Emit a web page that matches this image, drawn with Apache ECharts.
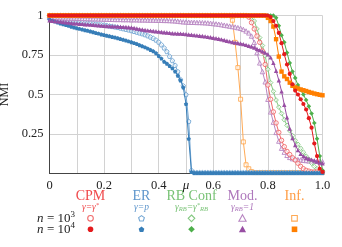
<!DOCTYPE html>
<html><head><meta charset="utf-8">
<script src="https://cdn.jsdelivr.net/npm/echarts@6/dist/echarts.min.js"></script>
<style>html,body{margin:0;padding:0;background:#fff}#c{width:342px;height:247px}</style>
</head><body><div id="c"></div>
<script>
// x grid (mixing parameter mu)
const mu = [0,0.01,0.02,0.03,0.04,0.05,0.06,0.07,0.08,0.09,
0.10,0.11,0.12,0.13,0.14,0.15,0.16,0.17,0.18,0.19,
0.20,0.21,0.22,0.23,0.24,0.25,0.26,0.27,0.28,0.29,
0.30,0.31,0.32,0.33,0.34,0.35,0.36,0.37,0.38,0.39,
0.40,0.41,0.42,0.43,0.44,0.45,0.46,0.47,0.48,0.49,
0.50,0.51,0.52,0.53,0.54,0.55,0.56,0.57,0.58,0.59,
0.60,0.61,0.62,0.63,0.64,0.65,0.66,0.67,0.68,0.69,
0.70,0.71,0.72,0.73,0.74,0.75,0.76,0.77,0.78,0.79,
0.80,0.81,0.82,0.83,0.84,0.85,0.86,0.87,0.88,0.89,
0.90,0.91,0.92,0.93,0.94,0.95,0.96,0.97,0.98,0.99,1.00];

const cpm_1e3 = [1,1,1,1,1,1,1,1,1,1, 1,1,1,1,1,1,1,1,1,1, 1,1,1,1,1,1,1,1,1,1, 1,1,1,1,1,1,1,1,1,1,
1,1,1,1,1,1,1,1,1,1, 1,1,1,1,1,1,1,1,1,1, 1,1,1,1,1,1,1,1,1,1, 1,1,1,
0.99,0.955,0.915,0.87,0.83,0.775,0.69,0.56,0.47,0.39,0.32,0.26,0.21,0.17,0.14,0.12,0.10,0.085,0.065,0.045,0.03,0.02,0.015,0.01,0.01,0.01,0.01,0.01];
const cpm_1e4 = [1,1,1,1,1,1,1,1,1,1, 1,1,1,1,1,1,1,1,1,1, 1,1,1,1,1,1,1,1,1,1, 1,1,1,1,1,1,1,1,1,1,
1,1,1,1,1,1,1,1,1,1, 1,1,1,1,1,1,1,1,1,1, 1,1,1,1,1,1,1,1,1,1, 1,1,1,1,1,1,1,1,1,1, 1,
0.99,0.965,0.935,0.89,0.825,0.755,0.69,0.63,0.565,0.525,0.50,0.47,0.44,0.405,0.35,0.29,0.19,0.11,0.03,0.01];
const er_1e3 = [0.985,0.982,0.979,0.976,0.973,0.970,0.968,0.966,0.964,0.962,
0.960,0.958,0.956,0.954,0.952,0.950,0.948,0.946,0.944,0.942,
0.940,0.937,0.934,0.931,0.928,0.925,0.921,0.917,0.913,0.909,
0.905,0.900,0.895,0.890,0.885,0.879,0.872,0.864,0.856,0.845,
0.832,0.815,0.795,0.772,0.742,0.715,0.685,0.645,0.595,0.555,
0.50,0.33,0.02,
0.006,0.006,0.006,0.006,0.006,0.006,0.006,0.006,0.006,0.006,0.006,0.006,0.006,0.006,0.006,0.006,
0.006,0.006,0.006,0.006,0.006,0.006,0.006,0.006,0.006,0.006,0.006,0.006,0.006,0.006,0.006,0.006,
0.006,0.006,0.006,0.006,0.006,0.006,0.006,0.006,0.006,0.006,0.006,0.006,0.006,0.006,0.006,0.006];
const er_1e4 = [0.975,0.968,0.962,0.956,0.950,0.945,0.940,0.935,0.930,0.925,
0.920,0.916,0.912,0.908,0.904,0.900,0.895,0.890,0.886,0.881,
0.877,0.873,0.869,0.865,0.861,0.857,0.852,0.847,0.842,0.837,
0.832,0.826,0.820,0.813,0.806,0.799,0.791,0.783,0.774,0.762,
0.745,0.728,0.708,0.696,0.681,0.666,0.646,0.620,0.590,0.545,
0.44,0.22,0.01,
0.004,0.004,0.004,0.004,0.004,0.004,0.004,0.004,0.004,0.004,0.004,0.004,0.004,0.004,0.004,0.004,
0.004,0.004,0.004,0.004,0.004,0.004,0.004,0.004,0.004,0.004,0.004,0.004,0.004,0.004,0.004,0.004,
0.004,0.004,0.004,0.004,0.004,0.004,0.004,0.004,0.004,0.004,0.004,0.004,0.004,0.004,0.004,0.004];
const rb_1e3 = [1,1,1,1,1,1,1,1,1,1, 1,1,1,1,1,1,1,1,1,1, 1,1,1,1,1,1,1,1,1,1, 1,1,1,1,1,1,1,1,1,1,
1,1,1,1,1,1,1,1,1,1, 1,1,1,1,1,1,1,1,1,1, 1,1,1,1,1,1,1,1,1,1, 1,1,1,1,
0.99,0.965,0.915,0.86,0.81,0.745,0.66,0.575,0.52,0.465,0.42,0.38,0.34,0.305,0.27,0.24,0.21,0.185,0.16,0.135,0.11,0.09,0.065,0.045,0.03,0.015,0.01];
const rb_1e4 = [1,1,1,1,1,1,1,1,1,1, 1,1,1,1,1,1,1,1,1,1, 1,1,1,1,1,1,1,1,1,1, 1,1,1,1,1,1,1,1,1,1,
1,1,1,1,1,1,1,1,1,1, 1,1,1,1,1,1,1,1,1,1, 1,1,1,1,1,1,1,1,1,1, 1,1,1,1,1,1,1,1,1,1, 1,1,1,
0.985,0.935,0.875,0.83,0.765,0.70,0.645,0.605,0.56,0.53,0.50,0.465,0.425,0.38,0.32,0.22,0.11,0.02];
const mod_1e3 = [0.990,0.989,0.988,0.987,0.986,0.985,0.984,0.984,0.983,0.983,
0.982,0.982,0.981,0.981,0.980,0.980,0.979,0.979,0.978,0.978,
0.977,0.977,0.976,0.976,0.975,0.975,0.975,0.974,0.974,0.974,
0.973,0.973,0.973,0.972,0.972,0.972,0.971,0.971,0.971,0.970,
0.970,0.970,0.969,0.969,0.968,0.967,0.966,0.964,0.962,0.960,
0.959,0.958,0.957,0.957,0.956,0.956,0.955,0.954,0.953,0.951,
0.949,0.947,0.945,0.942,0.939,0.936,0.933,0.930,0.927,0.923,
0.919,0.912,0.902,0.890,0.870,0.830,0.765,0.700,0.645,0.580,
0.470,0.390,0.325,0.260,0.205,0.160,0.135,0.115,0.102,0.094,
0.090,0.088,0.086,0.084,0.082,0.080,0.079,0.078,0.077,0.076,0.075];
const mod_1e4 = [0.970,0.967,0.965,0.963,0.961,0.959,0.957,0.955,0.953,0.951,
0.950,0.948,0.947,0.945,0.944,0.942,0.941,0.939,0.938,0.936,
0.935,0.934,0.933,0.932,0.931,0.930,0.929,0.928,0.927,0.926,
0.924,0.921,0.918,0.914,0.911,0.908,0.906,0.904,0.902,0.900,
0.898,0.896,0.894,0.892,0.890,0.888,0.887,0.886,0.885,0.884,
0.882,0.880,0.878,0.876,0.874,0.872,0.870,0.868,0.865,0.862,
0.859,0.856,0.853,0.849,0.845,0.840,0.836,0.832,0.829,0.826,
0.823,0.819,0.814,0.809,0.804,0.797,0.789,0.781,0.773,0.765,
0.755,0.735,0.700,0.650,0.590,0.520,0.435,0.355,0.285,0.225,
0.180,0.148,0.125,0.110,0.100,0.093,0.088,0.082,0.076,0.070,0.065];
const inf_1e3 = [1,1,1,1,1,1,1,1,1,1, 1,1,1,1,1,1,1,1,1,1, 1,1,1,1,1,1,1,1,1,1, 1,1,1,1,1,1,1,1,1,1,
1,1,1,1,1,1,1,1,1,1, 1,1,1,1,1,1,1,1,1,1, 1,1,1,1,1,1,1,
0.97,0.83,0.67,0.47,0.20,0.055,0.03,0.012,
0.006,0.006,0.006,0.006,0.006,0.006,0.006,0.006,0.006,0.006,0.006,0.006,0.006,
0.006,0.006,0.006,0.006,0.006,0.006,0.006,0.006,0.006,0.006,0.006,0.006,0.006];
const inf_1e4 = [1,1,1,1,1,1,1,1,1,1, 1,1,1,1,1,1,1,1,1,1, 1,1,1,1,1,1,1,1,1,1, 1,1,1,1,1,1,1,1,1,1,
1,1,1,1,1,1,1,1,1,1, 1,1,1,1,1,1,1,1,1,1, 1,1,1,1,1,1,1,1,1,1, 1,1,1,1,1,1,1,1,1,1,
0.985,0.965,0.93,0.85,0.74,0.645,0.615,0.598,0.575,0.555,0.545,0.538,0.532,0.527,0.522,0.516,0.511,0.506,0.502,0.498,0.495];

const xTickLabels = ['0','','0.2','','0.4','\u03bc','0.6','','0.8','','1.0'];
const yTickLabels = ['','0.25','0.5','0.75','1'];
const methods = ['CPM','ER','RB Conf','Mod.','Inf.'];

const SERIF = '"Liberation Serif", "DejaVu Serif", serif';
const PENT = 'path://M0,-1 L0.951,-0.309 L0.588,0.809 L-0.588,0.809 L-0.951,-0.309 Z';

const colDark = {CPM:'#e41a1c', ER:'#377eb8', RB:'#4daf4a', Mod:'#984ea3', Inf:'#ff7f00'};
const colLight = {CPM:'#f06a6b', ER:'#74a7d4', RB:'#86c983', Mod:'#b886c2', Inf:'#ffaa55'};
const colText = {CPM:'#f04a4c', ER:'#5f96cc', RB:'#78c275', Mod:'#ae78bc', Inf:'#ff9d45'};

function pts(v){ return mu.map((m,i)=>[m, v[i]]); }
function openS(name, v, key, sym, size){
  return {name, type:'line', data: pts(v), symbol: sym, symbolSize: size||4.2,
    lineStyle:{color: colLight[key], width:1}, itemStyle:{color:'rgba(255,255,255,0.55)', borderColor: colLight[key], borderWidth:0.9},
    emphasis:{disabled:true}, z:2};
}
function fillS(name, v, key, sym, size){
  return {name, type:'line', data: pts(v), symbol: sym, symbolSize: size||4,
    lineStyle:{color: colDark[key], width:1}, itemStyle:{color: colDark[key], borderWidth:0},
    emphasis:{disabled:true}, z:3};
}

const series = [
  openS('Inf n=1e3', inf_1e3, 'Inf', 'rect', 4),
  openS('ER n=1e3', er_1e3, 'ER', PENT, 4.4),
  fillS('ER n=1e4', er_1e4, 'ER', PENT, 4.2),
  openS('Mod n=1e3', mod_1e3, 'Mod', 'triangle', 4.4),
  fillS('Mod n=1e4', mod_1e4, 'Mod', 'triangle', 4.4),
  openS('RB n=1e3', rb_1e3, 'RB', 'diamond', 4.6),
  fillS('RB n=1e4', rb_1e4, 'RB', 'diamond', 4.6),
  fillS('Inf n=1e4', inf_1e4, 'Inf', 'rect', 4.4),
  openS('CPM n=1e3', cpm_1e3, 'CPM', 'circle', 4.4),
  fillS('CPM n=1e4', cpm_1e4, 'CPM', 'circle', 4.2)
];

// legend (graphic)
const colX = [90.5, 141.5, 191.5, 242.5, 294.5];
const keys = ['CPM','ER','RB','Mod','Inf'];
const subs = [
  '{g|\u03b3=\u03b3}{sp|*}',
  '{g|\u03b3=p}',
  '{g|\u03b3}{sb|RB}{g|=\u03b3}{sp|*}{sb|RB}',
  '{g|\u03b3}{sb|RB}{g|=1}',
  ''
];
const graphic = [];
methods.forEach((m,i)=>{
  const c = colText[keys[i]];
  graphic.push({type:'text', x: colX[i], y: 196.5, silent:true,
    style:{text: m, fill: c, font: '14px ' + SERIF, align:'center', verticalAlign:'middle'}});
  if (subs[i]) graphic.push({type:'text', x: colX[i], y: 207.5, silent:true,
    style:{text: subs[i], fill: c, align:'center', verticalAlign:'middle',
      rich:{ g:{fontSize:9.5, fontFamily: SERIF, fontStyle:'italic', fill:c},
             sp:{fontSize:6.5, fontFamily: SERIF, fontStyle:'italic', fill:c, padding:[0,0,5,0]},
             sb:{fontSize:6.5, fontFamily: SERIF, fontStyle:'italic', fill:c, padding:[4,0,0,0]} }}});
});
const rowY = [218.3, 229.3];
function marker(i, y, filled){
  const k = keys[i], x = colX[i];
  const col = filled ? colDark[k] : colLight[k];
  const st = filled ? {fill: col, stroke: col, lineWidth: 0} : {fill:'#fff', stroke: col, lineWidth: 1.1};
  const r = 2.8;
  if (k==='CPM') return {type:'circle', shape:{cx:x, cy:y, r: r}, style: st, silent:true};
  if (k==='Inf') return {type:'rect', shape:{x:x-r, y:y-r, width:2*r, height:2*r}, style: st, silent:true};
  let p;
  if (k==='ER') p = [0,1,2,3,4].map(j=>{const a=-Math.PI/2 + j*2*Math.PI/5; return [x+3*Math.cos(a), y+0.3+3*Math.sin(a)];});
  if (k==='RB') p = [[x,y-3.3],[x+3.3,y],[x,y+3.3],[x-3.3,y]];
  if (k==='Mod') p = [[x,y-3.6],[x+3.6,y+2.9],[x-3.6,y+2.9]];
  return {type:'polygon', shape:{points:p}, style: st, silent:true};
}
for (let i=0;i<5;i++){ graphic.push(marker(i,rowY[0],false)); graphic.push(marker(i,rowY[1],true)); }
['3','4'].forEach((e,j)=>{
  graphic.push({type:'text', x: 75, y: rowY[j], silent:true,
    style:{text:'{i|n} {t|= 10}{s|'+e+'}', align:'right', verticalAlign:'middle',
      rich:{ i:{fontSize:13, fontFamily:SERIF, fontStyle:'italic', fill:'#222'},
             t:{fontSize:13, fontFamily:SERIF, fill:'#222'},
             s:{fontSize:9, fontFamily:SERIF, fill:'#222', padding:[0,0,7,0]} }}});
});

const chart = echarts.init(document.getElementById('c'), null, {renderer:'canvas'});
chart.setOption({
  animation:false,
  backgroundColor:'#fff',
  grid:{left:49.5, top:15.5, width:273, height:158, containLabel:false, outerBoundsMode:'none'},
  xAxis:{type:'value', min:0, max:1, interval:0.1,
    axisLine:{show:true, lineStyle:{color:'#444', width:1}}, axisTick:{show:false},
    splitLine:{show:true, lineStyle:{color:'#d2d2d2', width:1}},
    axisLabel:{margin:6, color:'#222', fontFamily:SERIF, fontSize:12.5, showMaxLabel:true, showMinLabel:true, hideOverlap:false,
      formatter:(v)=>{ const s = xTickLabels[Math.round(v*10)] || ''; return s==='\u03bc' ? '{m|\u03bc}' : s; },
      rich:{m:{fontSize:13, fontStyle:'italic', fontFamily:SERIF, color:'#222'}}}},
  yAxis:{type:'value', min:0, max:1, interval:0.25,
    name:'NMI', nameLocation:'middle', nameGap:24, nameRotate:90,
    nameTextStyle:{color:'#222', fontFamily:SERIF, fontSize:12},
    axisLine:{show:true, lineStyle:{color:'#444', width:1}}, axisTick:{show:false},
    splitLine:{show:true, lineStyle:{color:'#d2d2d2', width:1}},
    axisLabel:{margin:6, color:'#222', fontFamily:SERIF, fontSize:12.5, showMaxLabel:true,
      formatter:(v)=> yTickLabels[Math.round(v*4)] || ''}},
  series: series,
  graphic: graphic
});
</script></body></html>
